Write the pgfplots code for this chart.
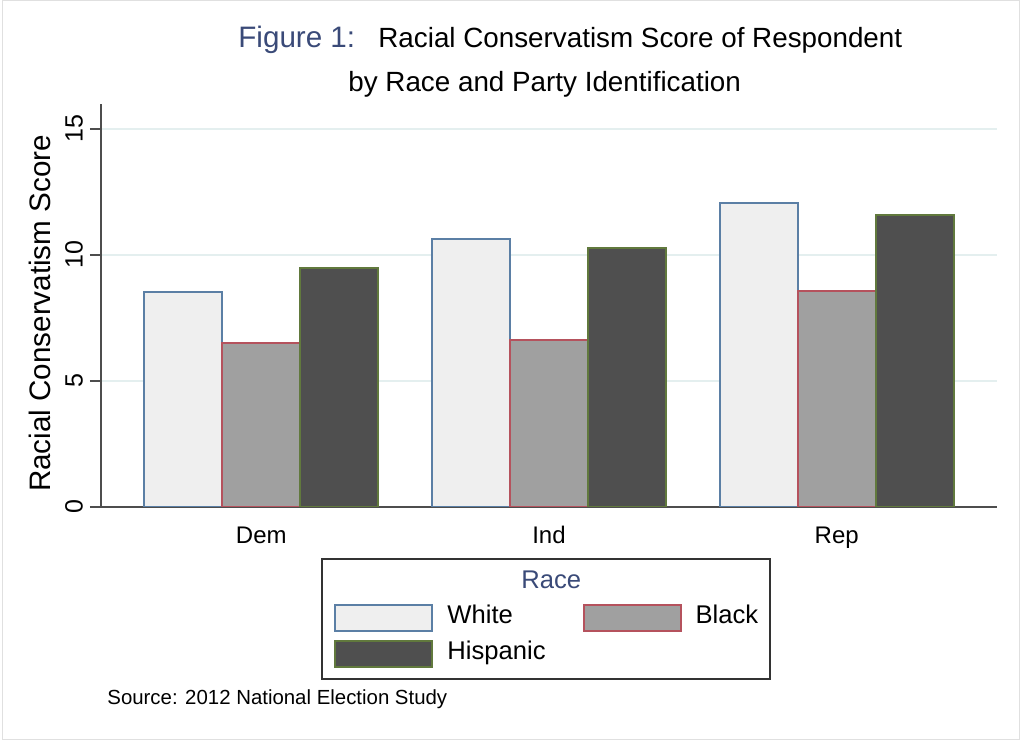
\documentclass[border=0pt]{standalone}
\usepackage{fontspec}
\setmainfont{Liberation Sans}
\usepackage{pgfplots}
\pgfplotsset{compat=1.18}

\definecolor{whitefill}{HTML}{EFEFEF}
\definecolor{whiteline}{HTML}{5B7FA5}
\definecolor{blackfill}{HTML}{A0A0A0}
\definecolor{blackline}{HTML}{B5525D}
\definecolor{hispfill}{HTML}{4F4F4F}
\definecolor{hispline}{HTML}{61793D}
\definecolor{axisgray}{HTML}{4D4D4D}
\definecolor{gridc}{HTML}{E4EFEF}
\definecolor{navytext}{HTML}{3A4A78}

% legend swatch: wide flat box like the Stata legend
\pgfplotsset{swatch/.style={legend image code/.code={\draw[##1] (0bp,-6.5bp) rectangle (48.5bp,6.5bp);}}}

\begin{document}
\begin{tikzpicture}
\path[use as bounding box] (0bp,0bp) rectangle (510.5bp,370bp);
\draw[black!12, line width=0.5bp] (1.2bp,0.5bp) rectangle (509.8bp,369.5bp);

% title lines
\node[anchor=base west, inner sep=0pt, text=navytext, font=\fontsize{14.8bp}{16bp}\selectfont] at (119bp,346bp) {Figure 1:};
\node[anchor=base west, inner sep=0pt, font=\fontsize{13.9bp}{16bp}\selectfont] at (189bp,346bp) {Racial Conservatism Score of Respondent};
\node[anchor=base west, inner sep=0pt, font=\fontsize{13.9bp}{16bp}\selectfont] at (174bp,324bp) {by Race and Party Identification};
\node[anchor=base west, inner sep=0pt, font=\fontsize{10.2bp}{12bp}\selectfont] at (53.5bp,18bp) {Source: 2012 National Election Study};

\begin{axis}[
  at={(50.5bp,116.5bp)}, anchor=south west,
  scale only axis, width=448bp, height=201.6bp,
  ybar=0pt, bar width=39bp,
  xmin=-0.557, xmax=2.557, ymin=0, ymax=16,
  xtick={0,1,2}, xticklabels={Dem,Ind,Rep},
  ytick={0,5,10,15},
  axis x line*=bottom, axis y line*=left,
  axis line style={axisgray, line width=1bp},
  x tick style={draw=none},
  y tick style={axisgray, line width=1bp},
  tick align=outside, major tick length=5.5bp,
  ymajorgrids, grid style={gridc, line width=0.7bp},
  /pgf/number format/assume math mode=true,
  yticklabel style={rotate=90, anchor=south, font=\fontsize{12.5bp}{14bp}\selectfont},
  xticklabel style={font=\fontsize{12bp}{14bp}\selectfont, text height=9bp, text depth=2.5bp},
  ylabel={Racial Conservatism Score},
  ylabel style={at={(axis description cs:-0.068,0.48)}, anchor=center, font=\fontsize{14.8bp}{16bp}\selectfont},
  legend columns=2,
  legend cell align=left,
  legend style={at={(axis description cs:0.497,-0.126)}, anchor=north,
    draw=black!80, line width=1bp, inner xsep=6bp, inner ysep=5.5bp,
    font=\fontsize{12.8bp}{14bp}\selectfont,
    nodes={inner sep=0pt, text height=9.5bp, text depth=3.5bp},
    row sep=4bp,
    /tikz/every odd column/.append style={column sep=7bp},
    /tikz/every even column/.append style={column sep=18.5bp}},
]
\addlegendimage{empty legend}
\addlegendentry{\makebox[0pt][l]{\hspace*{36.5bp}\textcolor{navytext}{Race}}}
\addlegendimage{empty legend}
\addlegendentry{}

\addplot[swatch, fill=whitefill, draw=whiteline, line width=1bp]
  coordinates {(0,8.55) (1,10.63) (2,12.08)};
\addlegendentry{White}
\addplot[swatch, fill=blackfill, draw=blackline, line width=1bp]
  coordinates {(0,6.51) (1,6.63) (2,8.57)};
\addlegendentry{Black}
\addplot[swatch, fill=hispfill, draw=hispline, line width=1bp]
  coordinates {(0,9.48) (1,10.28) (2,11.59)};
\addlegendentry{Hispanic}
\end{axis}
\end{tikzpicture}
\end{document}
